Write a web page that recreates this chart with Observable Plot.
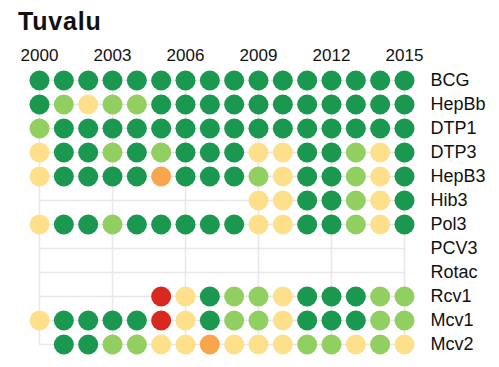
<!DOCTYPE html>
<html>
<head>
<meta charset="utf-8">
<script src="https://cdn.jsdelivr.net/npm/d3@7"></script>
<script src="https://cdn.jsdelivr.net/npm/@observablehq/plot@0.6"></script>
<style>
  html, body { margin: 0; padding: 0; background: #fff; }
  #title { box-sizing: border-box; height: 40px; padding: 9px 0 0 18px; font: bold 25px/24px "Liberation Sans", Arial, sans-serif; letter-spacing: 0.8px; color: #111; }
  #chart svg { display: block; }
</style>
</head>
<body>
<div id="title">Tuvalu</div>
<div id="chart"></div>
<script>
const years = [2000, 2001, 2002, 2003, 2004, 2005, 2006, 2007, 2008, 2009, 2010, 2011, 2012, 2013, 2014, 2015];
const tickYears = [2000, 2003, 2006, 2009, 2012, 2015];
const vaccines = ["BCG", "HepBb", "DTP1", "DTP3", "HepB3", "Hib3", "Pol3", "PCV3", "Rotac", "Rcv1", "Mcv1", "Mcv2"];

// coverage class per year, 2000..2015 (null = no data)
const BCG   = ["DG","DG","DG","DG","DG","DG","DG","DG","DG","DG","DG","DG","DG","DG","DG","DG"];
const HepBb = ["DG","LG","Y","LG","LG","DG","DG","DG","DG","DG","DG","DG","DG","DG","DG","DG"];
const DTP1  = ["LG","DG","DG","DG","DG","DG","DG","DG","DG","DG","DG","DG","DG","DG","DG","DG"];
const DTP3  = ["Y","DG","DG","LG","DG","LG","DG","DG","DG","Y","Y","DG","DG","LG","Y","DG"];
const HepB3 = ["Y","DG","DG","DG","DG","O","DG","DG","DG","LG","Y","DG","DG","LG","Y","DG"];
const Hib3  = [null,null,null,null,null,null,null,null,null,"Y","Y","DG","DG","LG","Y","DG"];
const Pol3  = ["Y","DG","DG","LG","DG","DG","DG","DG","DG","Y","Y","DG","DG","LG","Y","DG"];
const PCV3  = [null,null,null,null,null,null,null,null,null,null,null,null,null,null,null,null];
const Rotac = [null,null,null,null,null,null,null,null,null,null,null,null,null,null,null,null];
const Rcv1  = [null,null,null,null,null,"R","Y","DG","LG","LG","Y","DG","DG","DG","LG","LG"];
const Mcv1  = ["Y","DG","DG","DG","DG","R","Y","DG","LG","LG","Y","DG","DG","DG","LG","LG"];
const Mcv2  = [null,"DG","DG","LG","LG","Y","Y","O","Y","Y","Y","LG","LG","Y","LG","Y"];

const classes = ["R", "O", "Y", "LG", "DG"];
const classColors = ["#d9281f", "#f9a54b", "#fee08b", "#91cf60", "#1a9850"];

const series = {BCG, HepBb, DTP1, DTP3, HepB3, Hib3, Pol3, PCV3, Rotac, Rcv1, Mcv1, Mcv2};
const data = [];
for (const v of vaccines) {
  series[v].forEach((c, i) => { if (c) data.push({vaccine: v, year: years[i], cls: c}); });
}

const font = '"Liberation Sans", Arial, sans-serif';
const grid = "#e8e8e8";

const chart = Plot.plot({
  width: 499,
  height: 327,
  marginTop: 30,
  marginLeft: 0,
  marginRight: 0,
  marginBottom: 0,
  style: {fontFamily: font, color: "#111", background: "#fff"},
  x: {domain: [2000, 2015], range: [39, 404]},
  y: {type: "point", domain: vaccines, range: [37, 307], padding: 0, axis: null},
  color: {domain: classes, range: classColors},
  marks: [
    Plot.ruleY(vaccines, {y: d => d, x1: () => years[0], x2: () => years[years.length - 1], stroke: grid, strokeWidth: 1.5}),
    Plot.ruleX(tickYears, {x: d => d, y1: () => vaccines[0], y2: () => vaccines[vaccines.length - 1], stroke: grid, strokeWidth: 1.5}),
    Plot.dot(data, {x: "year", y: "vaccine", fill: "cls", r: 10}),
    Plot.text(vaccines, {x: () => years[years.length - 1], y: d => d, text: d => d, dx: 26, textAnchor: "start", fontSize: 18, fill: "#111"}),
    Plot.axisX(tickYears, {anchor: "top", tickSize: 0, tickPadding: 10, tickFormat: d => String(d), fontSize: 17, label: null})
  ]
});
document.getElementById("chart").appendChild(chart);
</script>
</body>
</html>
